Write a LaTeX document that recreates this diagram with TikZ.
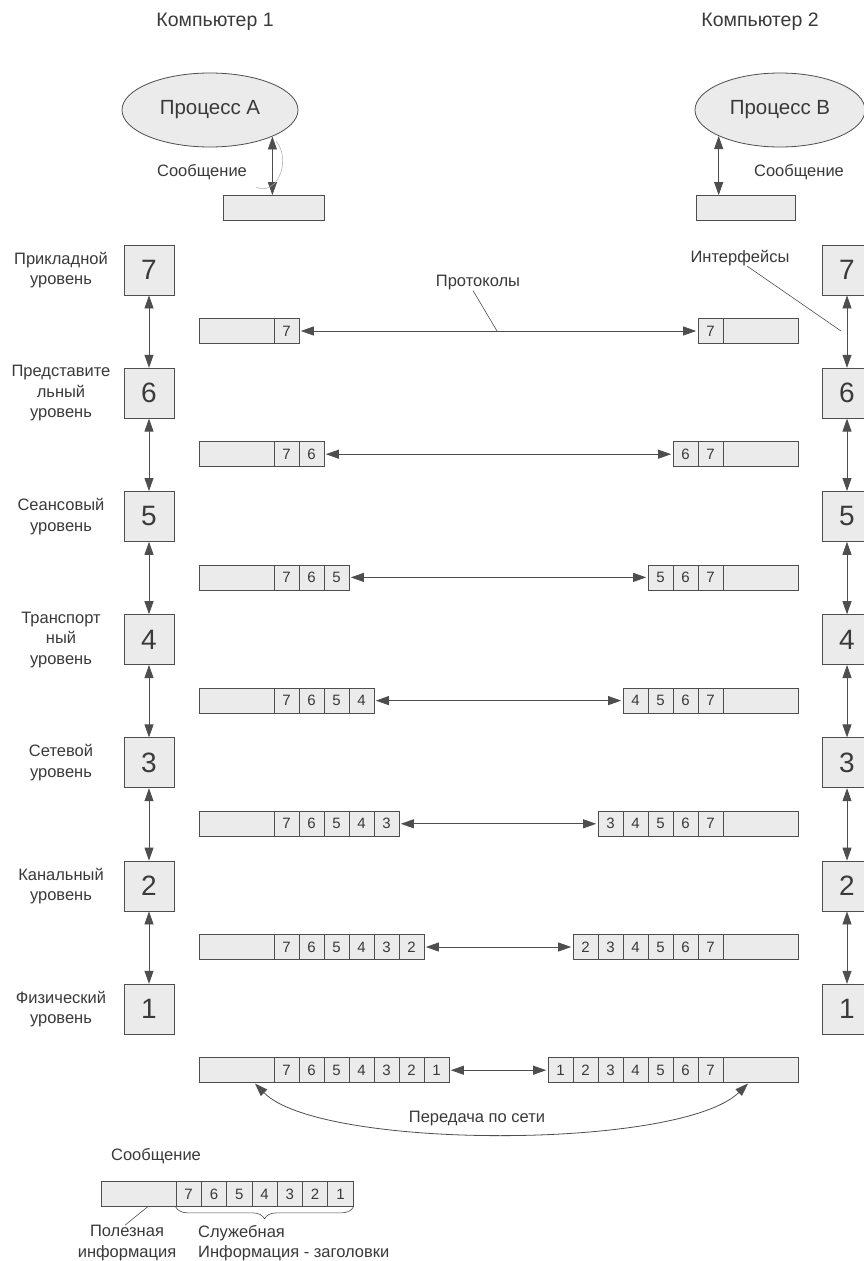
\documentclass[tikz,border=0pt]{standalone}
\usepackage{fontspec}
\setmainfont{Liberation Sans}
\usetikzlibrary{arrows.meta,decorations.pathreplacing,shapes.geometric}
\definecolor{ink}{HTML}{3A3A3A}
\definecolor{edge}{HTML}{4E4E4E}
\definecolor{boxfill}{HTML}{EBEBEB}
\begin{document}
\begin{tikzpicture}[x=1pt,y=-1pt,
  every node/.style={text=ink},
  lay/.style={draw=edge, fill=boxfill, minimum width=50pt, minimum height=50pt, inner sep=0pt, line width=0.8pt, font=\fontsize{28}{30}\selectfont},
  cellbox/.style={draw=edge, fill=boxfill, minimum width=25pt, minimum height=25pt, inner sep=0pt, line width=0.7pt, font=\fontsize{15}{17}\selectfont},
  paybox/.style={cellbox, minimum width=75pt},
  lbl/.style={font=\fontsize{16.5}{20.5}\selectfont, align=center, inner sep=0pt},
  title/.style={font=\fontsize{19.5}{22}\selectfont, inner sep=0pt},
  proc/.style={ellipse, draw=edge, fill=boxfill, line width=0.8pt, minimum width=176pt, minimum height=74pt, inner sep=0pt, font=\fontsize{20.5}{24}\selectfont},
  twoway/.style={{Triangle[length=13pt,width=9pt]}-{Triangle[length=13pt,width=9pt]}, draw=edge, line width=0.8pt},
  leader/.style={draw=edge, line width=0.6pt},
]
\useasboundingbox (0,0) rectangle (864,1261);
\clip (0,0) rectangle (864,1261);
\fill[white] (0,0) rectangle (864,1261);

% titles
\node[title] (c1) at (215,22) {Компьютер 1};
\node[title] (c2) at (760,22) {Компьютер 2};

% processes
\node[proc] (procA) at (210,110) {Процесс A};
\node[proc, minimum width=170pt] (procB) at (780,110) {Процесс B};
\node[cellbox, minimum width=101pt] (msgA) at (274,208) {};
\node[cellbox, minimum width=99pt] (msgB) at (745.5,208) {};
\draw[twoway] (procA.337.6) -- (procA.337.6 |- msgA.north);
\draw[twoway] (procB.203.6) -- (procB.203.6 |- msgB.north);
\draw[draw=gray!65, line width=0.5pt] (256,187) .. controls (277,197) and (292,160) .. (276,141);
\node[lbl] (sA) at (202,172) {Сообщение};
\node[lbl] (sB) at (799,172) {Сообщение};

% layer boxes and labels
\foreach \k in {7,...,1}{
  \pgfmathsetmacro\yb{270+(7-\k)*123.2}
  \node[lay] (A\k) at (149,\yb) {\k};
  \node[lay] (B\k) at (847,\yb) {\k};
}
\node[lbl] (n7) at (61,270) {Прикладной\\уровень};
\node[lbl] (n6) at (61,393.2) {Представите\\льный\\уровень};
\node[lbl] (n5) at (61,516.4) {Сеансовый\\уровень};
\node[lbl] (n4) at (61,639.6) {Транспорт\\ный\\уровень};
\node[lbl] (n3) at (61,762.8) {Сетевой\\уровень};
\node[lbl] (n2) at (61,886) {Канальный\\уровень};
\node[lbl] (n1) at (61,1009.2) {Физический\\уровень};

\foreach \k [evaluate=\k as \u using int(\k+1)] in {1,...,6}{
  \draw[twoway] (A\k.north) -- (A\u.south);
  \draw[twoway] (B\k.north) -- (B\u.south);
}

% message rows
\foreach \k in {7,...,1}{
  \pgfmathsetmacro\yr{331+(7-\k)*123.2}
  \node[paybox] (Lp\k) at (236.5,\yr) {};
  \node[paybox] (Rp\k) at (760.5,\yr) {};
  \foreach \j in {7,...,\k}{
    \node[cellbox] (Lc\k-\j) at ({286.5+25*(7-\j)},\yr) {\j};
    \node[cellbox] (Rc\k-\j) at ({710.5-25*(7-\j)},\yr) {\j};
  }
  \draw[twoway, shorten <=1.5pt, shorten >=1.5pt] (Lc\k-\k.east) -- (Rc\k-\k.west);
}

% protocols / interfaces
\node[lbl] (prot) at (478,283) {Протоколы};
\coordinate (protpt) at (497,331);
\draw[leader] (prot.south -| 473,0) -- (protpt);
\node[lbl] (intf) at (740,258) {Интерфейсы};
\coordinate (intfpt) at (841,331);
\draw[leader] (intf.south -| 747,0) -- (intfpt);

% network transfer
\coordinate (netL) at (255,1083.5);
\coordinate (netR) at (748,1083.5);
\draw[twoway] (netL) .. controls (320,1150) and (680,1150) .. (netR);
\node[lbl] (net) at (477,1119) {Передача по сети};

% legend
\node[lbl] (legt) at (156,1156) {Сообщение};
\node[paybox] (Mp) at (138.5,1194) {};
\foreach \j in {7,...,1}{
  \node[cellbox, minimum width=25.3pt] (Mc\j) at ({188.65+25.3*(7-\j)},1194) {\j};
}
\draw[leader, decorate, decoration={brace, mirror, amplitude=12pt}] (Mc7.south west) -- (Mc1.south east);
\node[lbl] (useful) at (127,1243) {Полезная\\информация};
\draw[leader] (148,1206.5) -- (useful.north -| 125,0);
\node[lbl, align=left, anchor=west] (service) at (198,1243) {Служебная\\Информация - заголовки};
\end{tikzpicture}
\end{document}
